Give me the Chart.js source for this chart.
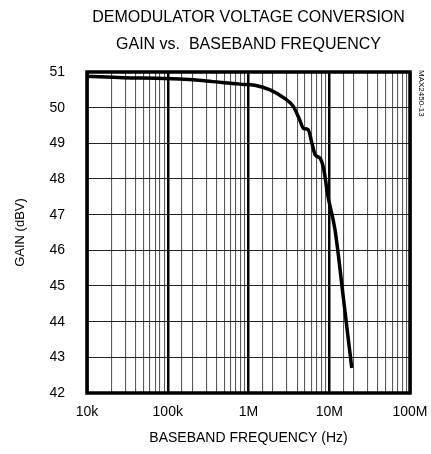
<!DOCTYPE html>
<html>
<head>
<meta charset="utf-8">
<script src="https://cdn.jsdelivr.net/npm/chart.js@4.4.0/dist/chart.umd.min.js"></script>
<style>
  html, body { margin: 0; padding: 0; background: #fff; }
  #wrap { width: 431px; height: 454px; position: relative; }
</style>
</head>
<body>
<div id="wrap"><canvas id="c" width="431" height="454"></canvas></div>
<script>
// Data
const freqHz = [1e4, 2.8e4, 9.2e4, 2.06e5, 3.6e5, 7.8e5, 1.2e6, 1.85e6, 2.8e6, 3.6e6, 4.3e6, 4.8e6, 5.5e6, 6.1e6, 6.7e6, 7.7e6, 8.4e6, 9.0e6, 9.4e6, 11.8e6, 14.9e6, 19e6];
const gainDbv = [50.88, 50.84, 50.82, 50.78, 50.73, 50.66, 50.63, 50.50, 50.26, 50.03, 49.66, 49.42, 49.38, 49.0, 48.68, 48.58, 48.35, 47.97, 47.65, 46.57, 44.7, 42.7];
const xTickValues = [1e4, 1e5, 1e6, 1e7, 1e8];
const xTickLabels = ['10k', '100k', '1M', '10M', '100M'];
const yMin = 42, yMax = 51;
const titleLines = ['DEMODULATOR VOLTAGE CONVERSION', 'GAIN vs.  BASEBAND FREQUENCY'];
const xAxisTitle = 'BASEBAND FREQUENCY (Hz)';
const yAxisTitle = 'GAIN (dBV)';
const figureId = 'MAX2450-13';

const FONT = "'Liberation Sans', Arial, Helvetica, sans-serif";

function isDecade(v) {
  const l = Math.log10(v);
  return Math.abs(l - Math.round(l)) < 1e-6;
}

const framePlugin = {
  id: 'frame',
  afterDraw(chart) {
    const { ctx, chartArea: a } = chart;
    ctx.save();
    ctx.strokeStyle = '#000';
    ctx.lineWidth = 3.5;
    ctx.strokeRect(a.left, a.top, a.right - a.left, a.bottom - a.top);
    // figure id, vertical
    ctx.fillStyle = '#000';
    ctx.font = '8px ' + FONT;
    ctx.translate(421.5, 70);
    ctx.rotate(Math.PI / 2);
    ctx.textAlign = 'left';
    ctx.textBaseline = 'middle';
    ctx.fillText(figureId, 0, 0);
    ctx.restore();
  }
};

new Chart(document.getElementById('c'), {
  type: 'line',
  data: {
    datasets: [{
      data: freqHz.map((f, i) => ({ x: f, y: gainDbv[i] })),
      borderColor: '#000',
      borderWidth: 3.5,
      pointRadius: 0,
      tension: 0.3,
      cubicInterpolationMode: 'monotone',
      fill: false
    }]
  },
  options: {
    responsive: false,
    animation: false,
    devicePixelRatio: 1,
    layout: { padding: { left: 0, right: 21, top: 0, bottom: 0 } },
    plugins: {
      legend: { display: false },
      tooltip: { enabled: false },
      title: {
        display: true,
        text: titleLines,
        fullSize: false,
        color: '#000',
        font: { family: FONT, size: 16, weight: 'normal', lineHeight: 1.7 },
        padding: { top: 4, bottom: 13.6 }
      }
    },
    scales: {
      x: {
        type: 'logarithmic',
        min: 1e4,
        max: 1e8,
        afterFit(s) { s.height = 61; s.paddingLeft = 0; s.paddingRight = 0; },
        border: { display: false },
        grid: {
          drawTicks: false,
          color: ctx => (ctx.tick && isDecade(ctx.tick.value)) ? '#000' : '#5a5a5a',
          lineWidth: ctx => (ctx.tick && isDecade(ctx.tick.value)) ? 2.5 : 1.1
        },
        ticks: {
          autoSkip: false,
          maxRotation: 0,
          padding: 11,
          color: '#000',
          font: { family: FONT, size: 14 },
          callback: v => {
            const i = xTickValues.findIndex(t => Math.abs(t - v) / t < 1e-6);
            return i >= 0 ? xTickLabels[i] : '';
          }
        },
        title: {
          display: true,
          text: xAxisTitle,
          color: '#000',
          font: { family: FONT, size: 14 },
          padding: { top: 0, bottom: 7 }
        }
      },
      y: {
        min: yMin,
        max: yMax,
        afterFit(s) { s.width = 87; },
        border: { display: false },
        grid: { drawTicks: false, color: '#222', lineWidth: 1.1 },
        ticks: {
          stepSize: 1,
          padding: 22,
          color: '#000',
          font: { family: FONT, size: 14 }
        },
        title: {
          display: true,
          text: yAxisTitle,
          color: '#000',
          font: { family: FONT, size: 13 },
          padding: { top: 13, bottom: 0 }
        }
      }
    }
  },
  plugins: [framePlugin]
});
</script>
</body>
</html>
